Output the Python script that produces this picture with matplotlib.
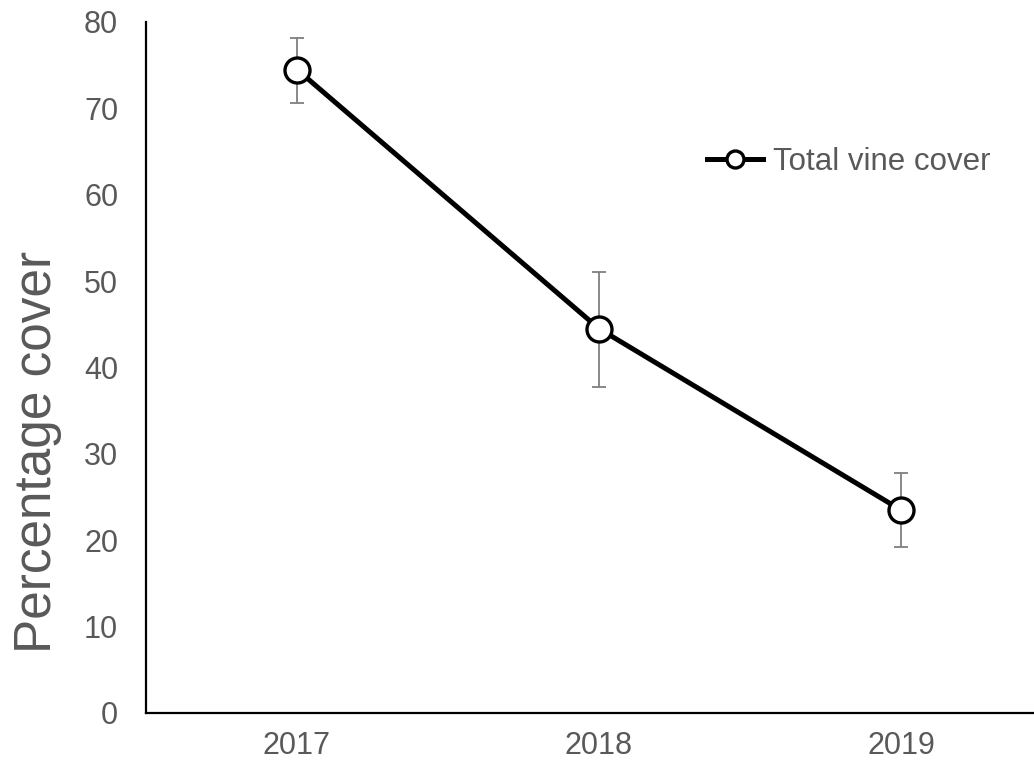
import numpy as np
import matplotlib
matplotlib.use("Agg")
import matplotlib.pyplot as plt

plt.rcParams['font.family'] = ['Liberation Sans', 'DejaVu Sans']

years = ["2017", "2018", "2019"]
cover = [74.5, 44.5, 23.5]
err_hi = [78.1, 51.0, 27.8]
err_lo = [70.6, 37.7, 19.2]

grey = "#595959"
x = np.arange(len(years))
yerr = [np.array(cover) - np.array(err_lo), np.array(err_hi) - np.array(cover)]

fig = plt.figure(figsize=(10.34, 7.68), dpi=100)
ax = fig.add_axes([146 / 1034, 1 - 713 / 768, 906 / 1034, 691 / 768])

# error bars first so the white markers sit on top of them
ax.errorbar(x, cover, yerr=yerr, fmt="none", ecolor="#7f7f7f",
            elinewidth=1.3, capsize=5, capthick=1.3, zorder=2)
ax.plot(x, cover, "-o", color="black", lw=3.6, ms=18, mfc="white",
        mec="black", mew=2.4, label="Total vine cover", zorder=3)

ax.set_xlim(-0.5, 2.5)
ax.set_ylim(0, 80)
ax.set_xticks(x)
ax.set_xticklabels(years)
ax.set_yticks(np.arange(0, 81, 10))
ax.tick_params(axis="both", length=0, labelsize=22, colors=grey)
ax.tick_params(axis="x", pad=13)
ax.tick_params(axis="y", pad=20)

for s in ["top", "right"]:
    ax.spines[s].set_visible(False)
for s in ["left", "bottom"]:
    ax.spines[s].set_linewidth(1.6)
    ax.spines[s].set_color("black")

ax.set_ylabel("Percentage cover", fontsize=37, color=grey)
ax.yaxis.set_label_coords(-0.093, 0.378)

leg = ax.legend(loc="center left", bbox_to_anchor=(707 / 1034, 1 - 162 / 768),
                bbox_transform=fig.transFigure, frameon=False, fontsize=22.5,
                handlelength=1.8, handletextpad=0.3, borderpad=0,
                borderaxespad=0, markerscale=0.68)
for t in leg.get_texts():
    t.set_color(grey)

fig.savefig("out.png", dpi=100)
